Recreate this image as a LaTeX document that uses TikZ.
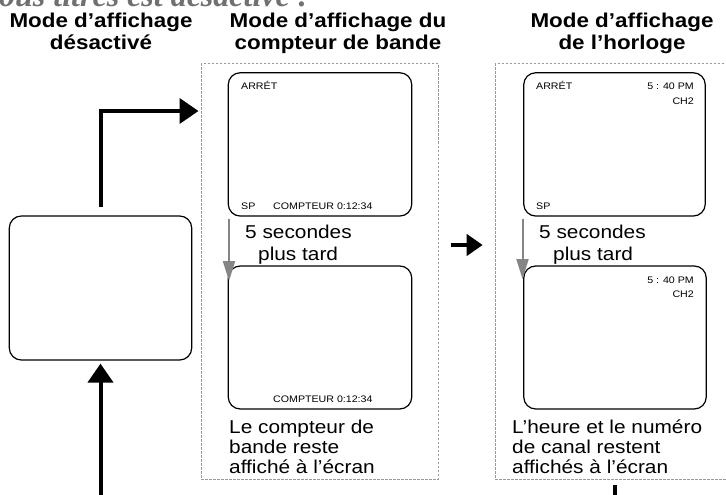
\documentclass[tikz,border=0pt]{standalone}
\usepackage{fontspec}
\setmainfont{Liberation Sans}[FakeStretch=1.12]
\newfontfamily\hdserif{Liberation Serif}
\usetikzlibrary{arrows.meta}
\definecolor{framegray}{HTML}{9A9A9A}
\definecolor{arrgray}{HTML}{858585}
\definecolor{headgray}{HTML}{707070}
\newcommand\ttlfont{\fontsize{20}{22}\selectfont\bfseries}
\newcommand\bodfont{\fontsize{18.6}{20}\selectfont}
\newcommand\smlfont{\fontsize{9.5}{11}\selectfont}
\tikzset{
  scr/.style={draw, line width=1.2pt, rounded corners=12pt, inner sep=0pt},
  frame/.style={draw=framegray, line width=1pt, dash pattern=on 2.5pt off 1.5pt, inner sep=0pt},
  blackarrow/.style={line width=4pt, line join=miter, -{Triangle[width=25pt,length=19pt]}},
  midarrow/.style={line width=4pt, -{Triangle[width=21pt,length=16pt]}},
  grayarrow/.style={draw=arrgray, line width=2pt, -{Triangle[width=12pt,length=20pt]}, arrgray},
  ttl/.style={inner sep=0pt, anchor=base, font=\ttlfont},
  bod/.style={inner sep=0pt, anchor=base west, font=\bodfont},
  sml/.style={inner sep=0pt, anchor=base west, font=\smlfont},
  smlr/.style={inner sep=0pt, anchor=base east, font=\smlfont},
}
\begin{document}
\begin{tikzpicture}[x=1pt,y=-1pt]
\useasboundingbox (0,0) rectangle (726,495);
\clip (0,0) rectangle (726,495);
\fill[white] (0,0) rectangle (726,495);

% heading cut at top
\node[inner sep=0pt, anchor=base west, text=headgray, font=\hdserif\fontsize{32}{34}\selectfont\bfseries\itshape] (head) at (-1,7) {ous titres est désactivé :};

% titles
\node[ttl] (t1a) at (101,28) {Mode d’affichage};
\node[ttl] (t1b) at (101,50) {désactivé};
\node[ttl] (t2a) at (338,28) {Mode d’affichage du};
\node[ttl] (t2b) at (338,50) {compteur de bande};
\node[ttl] (t3a) at (622,28) {Mode d’affichage};
\node[ttl] (t3b) at (622,50) {de l’horloge};

% frames
\node[frame, minimum width=237pt, minimum height=415pt] (midframe) at (319.5,271.5) {};
\node[frame, minimum width=245pt, minimum height=415pt] (rightframe) at (617.5,271.5) {};

% screens
\node[scr, minimum width=182.4pt, minimum height=144pt] (leftbox) at (100.5,288) {};
\node[scr, minimum width=183.5pt, minimum height=143.3pt] (midA) at (320,144.4) {};
\node[scr, minimum width=183.5pt, minimum height=143pt] (midB) at (320,337.5) {};
\node[scr, minimum width=181.5pt, minimum height=143.3pt] (rightA) at (614.5,144.4) {};
\node[scr, minimum width=182.5pt, minimum height=143pt] (rightB) at (615,337.5) {};

% screen texts
\node[sml] (mAarret) at (241,90) {ARRÉT};
\node[sml] (mAsp) at (241,209) {SP};
\node[sml] (mAcpt) at (273,209) {COMPTEUR 0:12:34};
\node[sml] (mBcpt) at (273,402.7) {COMPTEUR 0:12:34};

\node[sml] (rAarret) at (536,90) {ARRÉT};
\node[smlr] (rAtime) at (694,90) {5 : 40 PM};
\node[smlr] (rAch) at (694,104) {CH2};
\node[sml] (rAsp) at (536,209) {SP};
\node[smlr] (rBtime) at (694,283) {5 : 40 PM};
\node[smlr] (rBch) at (694,297) {CH2};

% body texts
\node[bod] (m5s) at (245,238) {5 secondes};
\node[bod] (mpt) at (258,260) {plus tard};
\node[bod] (r5s) at (539,238) {5 secondes};
\node[bod] (rpt) at (553,260) {plus tard};

\node[bod] (mc1) at (229,433) {Le compteur de};
\node[bod] (mc2) at (229,453) {bande reste};
\node[bod] (mc3) at (229,473) {affiché à l’écran};
\node[bod] (rc1) at (512,433) {L’heure et le numéro};
\node[bod] (rc2) at (512,453) {de canal restent};
\node[bod] (rc3) at (512,473) {affichés à l’écran};

% gray arrows
\coordinate (g1s) at (229,219);
\coordinate (g1e) at (229,281);
\coordinate (g2s) at (522.5,219);
\coordinate (g2e) at (522.5,279);
\draw[grayarrow] (g1s) -- (g1e);
\draw[grayarrow] (g2s) -- (g2e);

% black arrows
\coordinate (topy) at (0,111);
\draw[blackarrow, shorten >=2pt] ([yshift=8pt]leftbox.north) |- (midframe.west |- topy);
\coordinate (botstart) at (100.5,505);
\draw[blackarrow] (botstart) -- ([yshift=-3pt]leftbox.south);
\coordinate (ma1) at (450.7,245);
\coordinate (ma2) at (482.7,245);
\draw[midarrow] (ma1) -- (ma2);
\coordinate (br1) at (615,485);
\coordinate (br2) at (615,505);
\draw[line width=4pt] (br1) -- (br2);
\end{tikzpicture}
\end{document}
